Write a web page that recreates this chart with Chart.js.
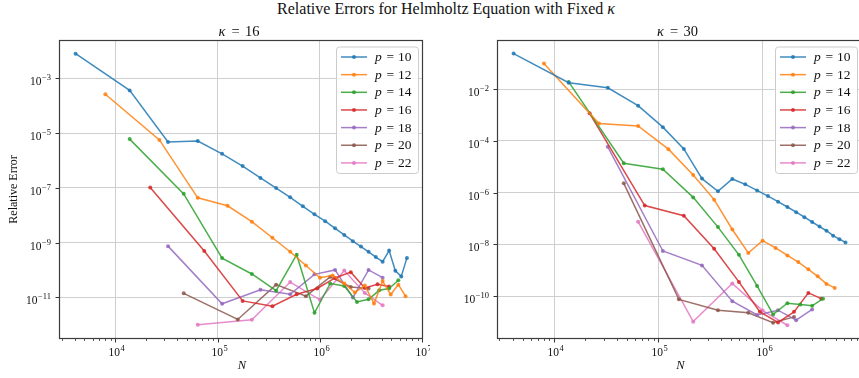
<!DOCTYPE html>
<html>
<head>
<meta charset="utf-8">
<script src="https://cdn.jsdelivr.net/npm/chart.js@4.4.1/dist/chart.umd.min.js"></script>
<style>
  body { margin: 0; background: #fff; overflow: hidden; width: 859px; height: 378px; position: relative; }
  #suptitle { position: absolute; top: 0px; left: 246px; width: 400px; text-align: center;
              font: 16px "Liberation Serif"; color: #111; }
  #c1 { position: absolute; left: 0; top: 0; }
  #c2 { position: absolute; left: 430px; top: 0; }
</style>
</head>
<body>
<div id="suptitle">Relative Errors for Helmholtz Equation with Fixed <i>κ</i></div>
<canvas id="c1" width="430" height="378"></canvas>
<canvas id="c2" width="440" height="378"></canvas>
<script>
// N values (mesh sizes) per polynomial degree p
const nP10 = [4096, 13824, 32768, 64000, 110592, 175616, 262144, 373248, 512000, 681472, 884736, 1124864,
              1404928, 1728000, 2097152, 2515456, 2985984, 3511808, 4096000, 4741632, 5451776, 6229504, 7077888];
const nP12 = [8000, 27000, 64000, 125000, 216000, 343000, 512000, 729000, 1000000, 1331000, 1728000, 2197000,
              2744000, 3375000, 4096000, 4913000, 5832000, 6859000];
const nP14 = [13824, 46656, 110592, 216000, 373248, 592704, 884736, 1259712, 1728000, 2299968, 2985984,
              3796416, 4741632, 5832000];
const nP16 = [21952, 74088, 175616, 343000, 592704, 941192, 1404928, 2000376, 2744000, 3652264, 4741632];
const nP18 = [32768, 110592, 262144, 512000, 884736, 1404928, 2097152, 2985984, 4096000];
const nP20 = [46656, 157464, 373248, 729000, 1259712, 2000376, 2985984];
const nP22 = [64000, 216000, 512000, 1000000, 1728000, 2744000, 4096000];

// relative errors, kappa = 16
const e16p10 = [7.9e-3, 3.6e-4, 4.7e-6, 5.1e-6, 1.74e-6, 6.2e-7, 2.3e-7, 9.8e-8, 4.5e-8, 2.1e-8, 1.07e-8, 6.0e-9,
                3.3e-9, 1.9e-9, 1.12e-9, 7.1e-10, 4.6e-10, 2.95e-10, 2.0e-10, 5.1e-10, 9.3e-11, 5.8e-11, 2.75e-10];
const e16p12 = [2.6e-4, 5.6e-6, 4.3e-8, 2.2e-8, 5.8e-9, 1.5e-9, 4.6e-10, 1.45e-10, 5.2e-11, 6.3e-11, 3.2e-11,
                1.5e-11, 2.7e-11, 5.9e-12, 3.9e-11, 1.26e-11, 2.9e-11, 1.1e-11];
const e16p14 = [6.0e-6, 6.0e-8, 2.7e-10, 7.1e-11, 1.74e-11, 3.6e-10, 2.7e-12, 3.2e-11, 2.6e-11, 6.8e-12, 8.5e-12,
                1.8e-11, 2.1e-11, 4.2e-11];
const e16p16 = [1.02e-7, 4.9e-10, 7.4e-12, 4.7e-12, 1.29e-11, 2.1e-11, 5.1e-11, 8.3e-11, 2.2e-11, 3.0e-11, 2.5e-11];
const e16p18 = [7.4e-10, 5.8e-12, 1.9e-11, 1.29e-11, 6.9e-11, 1.0e-10, 9.8e-12, 1.0e-10, 5.2e-11];
const e16p20 = [1.4e-11, 1.55e-12, 2.9e-11, 1.1e-11, 5.6e-11, 2.4e-11, 2.1e-11];
const e16p22 = [1.0e-12, 1.5e-12, 3.6e-11, 8.1e-12, 9.5e-11, 1.45e-11, 5.1e-12];

// relative errors, kappa = 30
const e30p10 = [0.236, 1.76e-2, 1.13e-2, 2.3e-3, 3.4e-4, 4.9e-5, 3.5e-6, 1.13e-6, 3.4e-6, 2.1e-6, 1.23e-6, 7.4e-7,
                4.5e-7, 2.8e-7, 1.77e-7, 1.13e-7, 7.4e-8, 4.9e-8, 3.4e-8, 2.2e-8, 1.6e-8, 1.2e-8];
const e30p12 = [9.8e-2, 4.7e-4, 3.8e-4, 4.8e-5, 4.8e-6, 5.4e-7, 3.8e-8, 4.7e-9, 1.4e-8, 7.4e-9, 3.8e-9, 2.1e-9,
                1.1e-9, 5.9e-10, 3.0e-10, 2.1e-10];
const e30p14 = [1.9e-2, 1.38e-5, 8.1e-6, 6.6e-7, 4.7e-8, 4.0e-9, 2.5e-10, 2.0e-11, 5.4e-11, 4.8e-11, 4.3e-11, 8.1e-11];
const e30p16 = [1.17e-3, 3.2e-7, 1.3e-7, 6.8e-9, 3.6e-10, 2.5e-11, 9.8e-12, 2.5e-11, 1.35e-10, 8.1e-11];
const e30p18 = [5.9e-5, 5.6e-9, 1.56e-9, 6.5e-11, 1.9e-11, 2.9e-11, 1.2e-11, 3.1e-11];
const e30p20 = [2.3e-6, 7.6e-11, 2.9e-11, 2.3e-11, 9.5e-12, 1.6e-11];
const e30p22 = [7.6e-8, 1.05e-11, 3.1e-10, 2.8e-11, 7.6e-12];

const pValues = [10, 12, 14, 16, 18, 20, 22];
const colors = ['31,119,180', '255,127,14', '44,160,44', '214,39,40', '148,103,189', '140,86,75', '227,119,194'];

const xTicks16 = [1e4, 1e5, 1e6, 1e7];
const yTicks16 = [1e-3, 1e-5, 1e-7, 1e-9, 1e-11];
const xTicks30 = [1e4, 1e5, 1e6];
const yTicks30 = [1e-2, 1e-4, 1e-6, 1e-8, 1e-10];

const SERIF = '"Liberation Serif", "DejaVu Serif", serif';

// draws 10^e with a raised exponent
function powLabel(ctx, e, x, y, align) {
  const base = '10';
  const sup = (e < 0 ? '\u2212' : '') + Math.abs(e);
  ctx.font = '11.5px ' + SERIF;
  const wb = ctx.measureText(base).width;
  ctx.font = '8.5px ' + SERIF;
  const ws = ctx.measureText(sup).width;
  const w = wb + ws + 0.5;
  const x0 = align === 'right' ? x - w : x - w / 2;
  ctx.textAlign = 'left';
  ctx.textBaseline = 'alphabetic';
  ctx.font = '11.5px ' + SERIF;
  ctx.fillText(base, x0, y);
  ctx.font = '8.5px ' + SERIF;
  ctx.fillText(sup, x0 + wb + 0.5, y - 5);
}

const decor = {
  id: 'decor',
  afterDraw(chart) {
    const o = chart.options.plugins.decor;
    const { ctx, chartArea: a, scales: { x, y } } = chart;
    ctx.save();
    ctx.fillStyle = '#111';
    ctx.strokeStyle = '#333';

    // minor x ticks
    ctx.lineWidth = 0.8;
    for (let k = 3; k <= 7; k++) {
      for (let m = 2; m <= 9; m++) {
        const v = m * Math.pow(10, k);
        if (v < x.min || v > x.max) continue;
        const px = Math.round(x.getPixelForValue(v)) + 0.5;
        ctx.beginPath(); ctx.moveTo(px, a.bottom); ctx.lineTo(px, a.bottom + 2); ctx.stroke();
      }
    }
    // major ticks + labels
    ctx.lineWidth = 1;
    o.xTicks.forEach(v => {
      const px = Math.round(x.getPixelForValue(v)) + 0.5;
      ctx.beginPath(); ctx.moveTo(px, a.bottom); ctx.lineTo(px, a.bottom + 3.5); ctx.stroke();
      powLabel(ctx, Math.round(Math.log10(v)), px + 1, a.bottom + 17, 'center');
    });
    o.yTicks.forEach(v => {
      const py = Math.round(y.getPixelForValue(v)) + 0.5;
      ctx.beginPath(); ctx.moveTo(a.left, py); ctx.lineTo(a.left - 3.5, py); ctx.stroke();
      powLabel(ctx, Math.round(Math.log10(v)), a.left - 8, py + 6, 'right');
    });

    // frame
    ctx.strokeStyle = '#3c3c3c';
    ctx.lineWidth = 1.2;
    ctx.strokeRect(Math.round(a.left) + 0.5, Math.round(a.top) + 0.5,
                   Math.round(a.right - a.left) - 1, Math.round(a.bottom - a.top) - 1);

    // subplot title
    const cx = (a.left + a.right) / 2;
    ctx.fillStyle = '#111';
    ctx.textBaseline = 'alphabetic';
    ctx.textAlign = 'left';
    ctx.font = 'italic 14.5px ' + SERIF;
    ctx.fillText('κ', cx - 22.5, 36);
    ctx.font = '14.5px ' + SERIF;
    ctx.fillText('=', cx - 9.5, 36);
    ctx.fillText(String(o.kappa), cx + 4, 36);

    // axis titles
    ctx.font = 'italic 12.5px ' + SERIF;
    ctx.textAlign = 'center';
    ctx.fillText('N', cx + 1, 369);
    if (o.yTitle) {
      ctx.save();
      ctx.translate(17, (a.top + a.bottom) / 2);
      ctx.rotate(-Math.PI / 2);
      ctx.font = '12px ' + SERIF;
      ctx.fillText('Relative Error', 0, 0);
      ctx.restore();
    }

    // legend
    const bw = 82, bh = 126.5;
    const bx = a.right - 5 - bw, by = a.top + 6.5;
    ctx.beginPath();
    ctx.roundRect(bx + 0.5, by + 0.5, bw, bh, 3);
    ctx.fillStyle = 'rgba(255,255,255,0.85)';
    ctx.fill();
    ctx.strokeStyle = '#cccccc';
    ctx.lineWidth = 1;
    ctx.stroke();
    chart.data.datasets.forEach((ds, i) => {
      const cy = by + 10.5 + i * 17.65;
      ctx.strokeStyle = ds.borderColor;
      ctx.lineWidth = 1.5;
      ctx.beginPath(); ctx.moveTo(bx + 5, cy); ctx.lineTo(bx + 31, cy); ctx.stroke();
      ctx.fillStyle = ds.borderColor;
      ctx.beginPath(); ctx.arc(bx + 18, cy, 2, 0, Math.PI * 2); ctx.fill();
      ctx.fillStyle = '#111';
      ctx.textAlign = 'left';
      ctx.font = 'italic 13.5px ' + SERIF;
      ctx.fillText('p', bx + 39, cy + 4);
      ctx.font = '13.5px ' + SERIF;
      ctx.fillText('=', bx + 50.5, cy + 4);
      ctx.fillText(String(pValues[i]), bx + 62, cy + 4);
    });
    ctx.restore();
  }
};

function makeChart(id, kappa, nLists, eLists, xr, yr, xTicks, yTicks, yWidth, padRight, yTitle) {
  const datasets = eLists.map((errs, i) => ({
    label: 'p = ' + pValues[i],
    data: errs.map((e, j) => ({ x: nLists[i][j], y: e })),
    borderColor: 'rgba(' + colors[i] + ',0.85)',
    backgroundColor: 'rgba(' + colors[i] + ',0.85)',
    borderWidth: 1.5,
    pointRadius: 2,
    pointBorderWidth: 0,
    pointHoverRadius: 0,
    tension: 0,
    fill: false
  }));
  return new Chart(document.getElementById(id), {
    type: 'line',
    data: { datasets },
    plugins: [decor],
    options: {
      responsive: false,
      animation: false,
      events: [],
      layout: { padding: { left: 0, right: padRight, top: 40, bottom: 0 } },
      scales: {
        x: {
          type: 'logarithmic', min: xr[0], max: xr[1],
          afterBuildTicks: s => { s.ticks = xTicks.map(v => ({ value: v })); },
          afterFit: s => { s.height = 39; },
          ticks: { display: false },
          grid: { color: '#cfcfcf', lineWidth: 1, drawTicks: false },
          border: { display: false }
        },
        y: {
          type: 'logarithmic', min: yr[0], max: yr[1],
          afterBuildTicks: s => { s.ticks = yTicks.map(v => ({ value: v })); },
          afterFit: s => { s.width = yWidth; },
          ticks: { display: false },
          grid: { color: '#cfcfcf', lineWidth: 1, drawTicks: false },
          border: { display: false }
        }
      },
      plugins: {
        legend: { display: false },
        tooltip: { enabled: false },
        decor: { kappa, xTicks, yTicks, yTitle }
      }
    }
  });
}

const nLists = [nP10, nP12, nP14, nP16, nP18, nP20, nP22];

makeChart('c1', 16, nLists, [e16p10, e16p12, e16p14, e16p16, e16p18, e16p20, e16p22],
          [2820, 1.016e7], [3.2e-13, 2.5e-2], xTicks16, yTicks16, 59, 7, true);
makeChart('c2', 30, nLists, [e30p10, e30p12, e30p14, e30p16, e30p18, e30p20, e30p22],
          [2840, 8.97e6], [2.24e-12, 0.79], xTicks30, yTicks30, 67, 8, false);
</script>
</body>
</html>
